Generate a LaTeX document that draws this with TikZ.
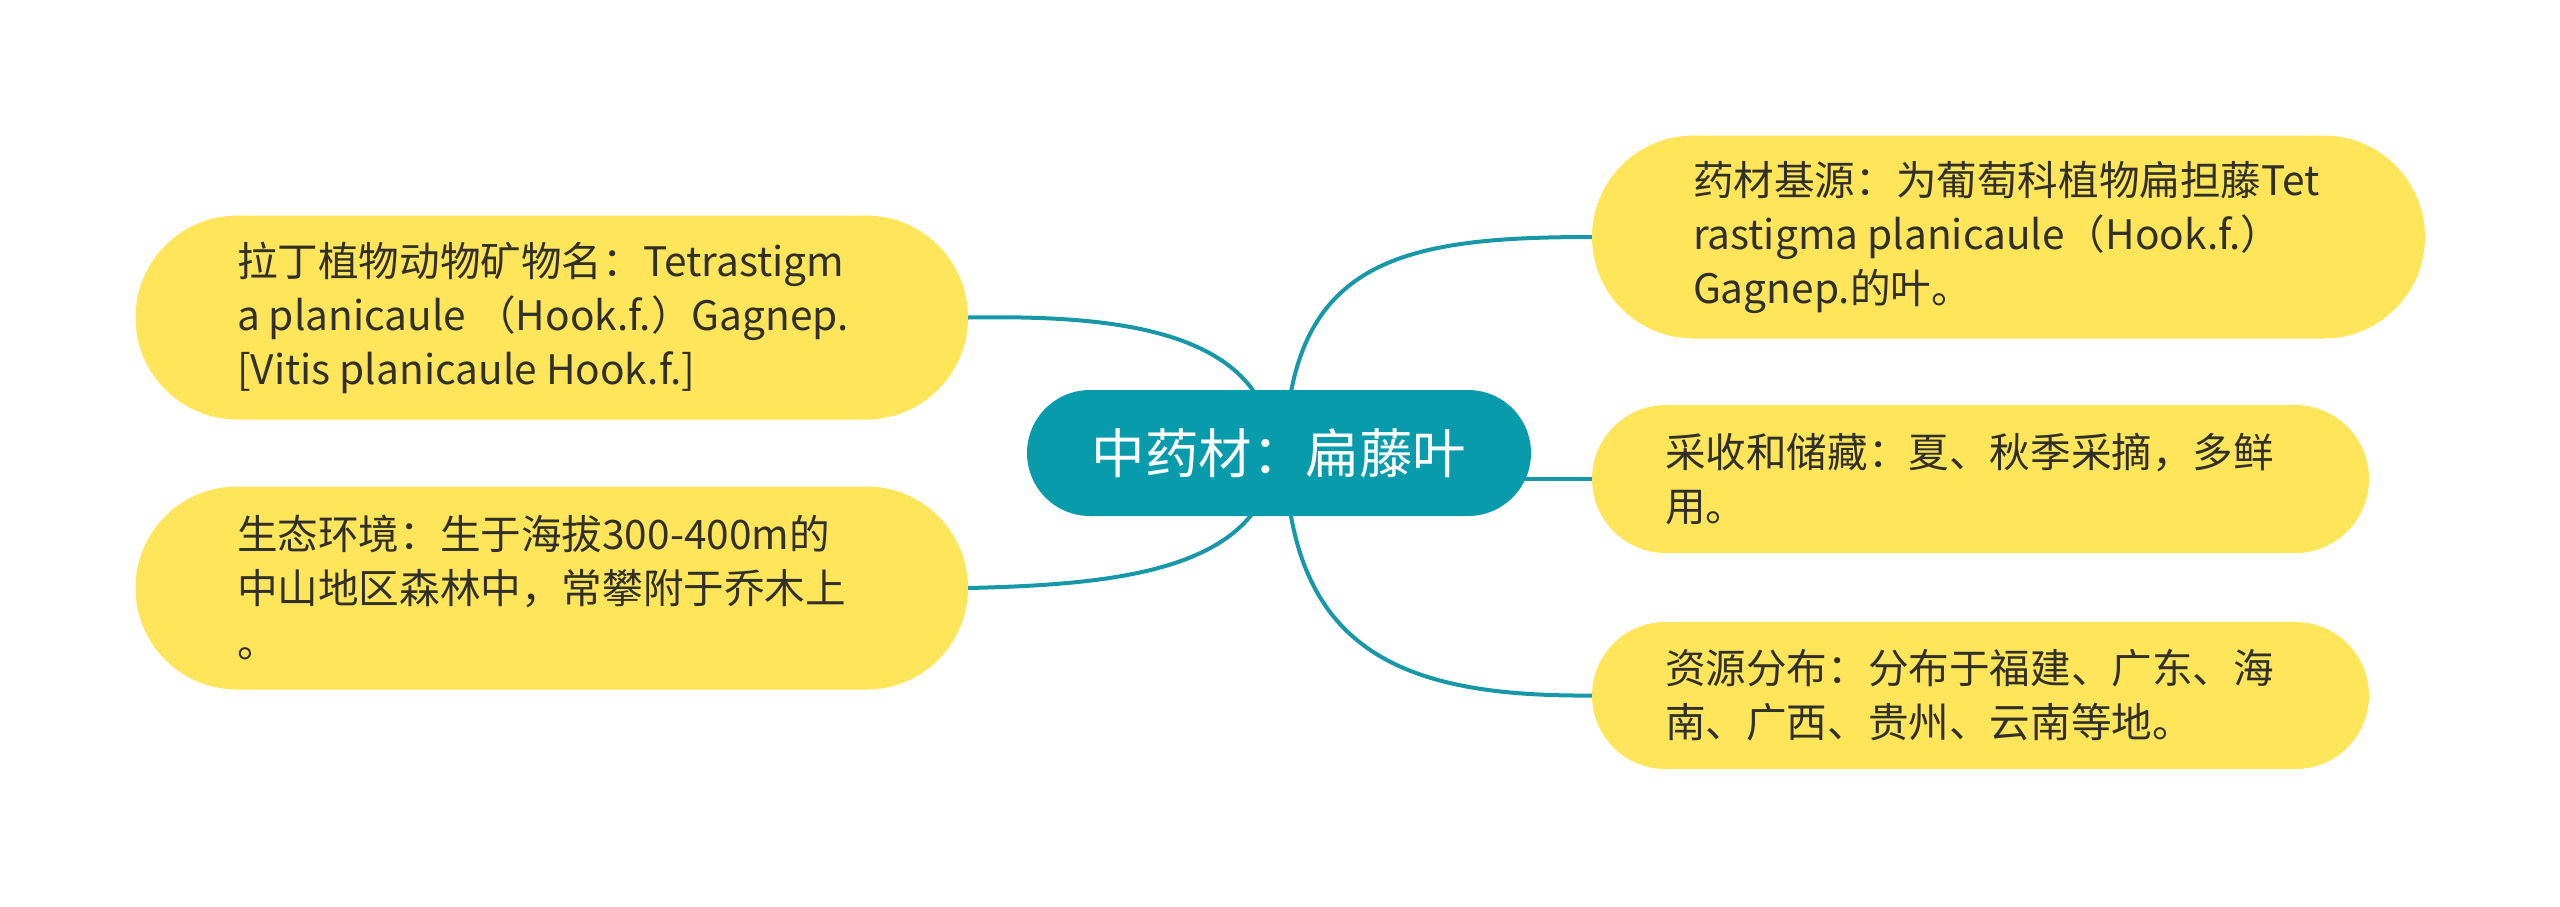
\documentclass[tikz,border=0pt]{standalone}
\usepackage{fontspec}
\setmainfont{Noto Sans CJK SC}
\usetikzlibrary{backgrounds,calc}
\definecolor{teal1}{RGB}{8,155,172}
\definecolor{teal2}{RGB}{22,152,168}
\definecolor{leafy}{RGB}{255,229,89}
\definecolor{txtc}{RGB}{48,48,40}
\tikzset{
  leafbox/.style={fill=leafy, draw=none, inner sep=0pt},
  leaftxt/.style={anchor=west, align=left, inner sep=0pt, text=txtc,
    font={\fontsize{40.6pt}{54pt}\selectfont}},
  rootbox/.style={fill=teal1, draw=none, inner sep=0pt, minimum width=504pt,
    minimum height=126pt, rounded corners=63pt, text=white,
    font={\fontsize{53.5pt}{60pt}\selectfont}},
  link/.style={draw=teal2, line width=4pt}
}
\begin{document}
\begin{tikzpicture}[x=1pt,y=-1pt]
\useasboundingbox (0,0) rectangle (2560,906);
% root
\node[rootbox] (c) at (1279,453) {中药材：扁藤叶};
% left boxes
\node[leafbox, minimum width=832.5pt, minimum height=204pt, rounded corners=102pt] (lt) at (551.75,317.5) {};
\node[leaftxt] (ltx) at ([xshift=101.5pt]lt.west) {拉丁植物动物矿物名：Tetrastigm\\a planicaule （Hook.f.）Gagnep.\\{}[Vitis planicaule Hook.f.]};
\node[leafbox, minimum width=832.5pt, minimum height=203pt, rounded corners=101.5pt] (lb) at (551.75,588) {};
\node[leaftxt] (lbx) at ([xshift=101.5pt]lb.west) {生态环境：生于海拔300-400m的\\中山地区森林中，常攀附于乔木上\\。};
% right boxes
\node[leafbox, minimum width=833pt, minimum height=203pt, rounded corners=101.5pt] (rt) at (2008.5,237) {};
\node[leaftxt] (rtx) at ([xshift=101pt]rt.west) {药材基源：为葡萄科植物扁担藤Tet\\rastigma planicaule（Hook.f.）\\Gagnep.的叶。};
\node[leafbox, minimum width=777pt, minimum height=148pt, rounded corners=74pt] (rm) at (1980.5,479) {};
\node[leaftxt] (rmx) at ([xshift=73pt]rm.west) {采收和储藏：夏、秋季采摘，多鲜\\用。};
\node[leafbox, minimum width=777pt, minimum height=147pt, rounded corners=73.5pt] (rb) at (1980.5,695.5) {};
\node[leaftxt] (rbx) at ([xshift=73pt]rb.west) {资源分布：分布于福建、广东、海\\南、广西、贵州、云南等地。};
% connectors
\begin{scope}[on background layer]
\draw[link] ([xshift=-4pt]c.center) .. controls ($(c.center)+(-14,-123)$) and ($(lt.east)+(152,-2.5)$) .. (lt.east);
\draw[link] ([xshift=-4pt]c.center) .. controls ($(c.center)+(-14,117)$) and ($(lb.east)+(152,-3.5)$) .. (lb.east);
\draw[link] ([xshift=6pt]c.center) .. controls ($(c.center)+(11,-193)$) and ($(rt.west)+(-192,0)$) .. (rt.west);
\draw[link] ([xshift=6pt]c.center) .. controls ($(c.center)+(11,197)$) and ($(rb.west)+(-192,1.5)$) .. (rb.west);
\draw[link] (rm.west -| c.center) -- (rm.west);
\end{scope}
\end{tikzpicture}
\end{document}
